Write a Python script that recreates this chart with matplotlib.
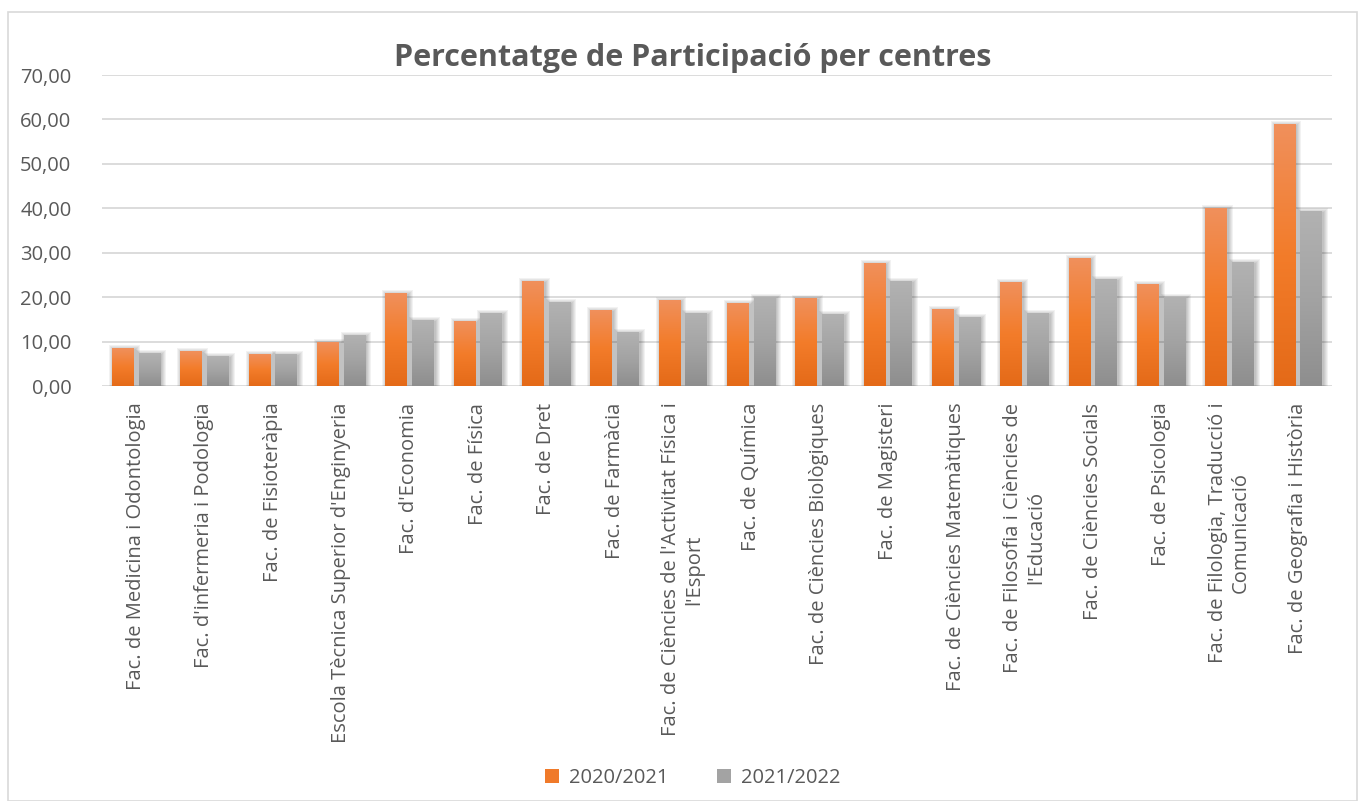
import numpy as np
import matplotlib
matplotlib.use("Agg")
import matplotlib.pyplot as plt
from matplotlib.patches import Rectangle, Patch
from matplotlib.colors import LinearSegmentedColormap
from matplotlib.ticker import FuncFormatter

plt.rcParams['font.family'] = ['Open Sans', 'DejaVu Sans']

centres = [
    "Fac. de Medicina i Odontologia",
    "Fac. d'infermeria i Podologia",
    "Fac. de Fisioteràpia",
    "Escola Tècnica Superior d'Enginyeria",
    "Fac. d'Economia",
    "Fac. de Física",
    "Fac. de Dret",
    "Fac. de Farmàcia",
    "Fac. de Ciències de l'Activitat Física i\nl'Esport",
    "Fac. de Química",
    "Fac. de Ciències Biològiques",
    "Fac. de Magisteri",
    "Fac. de Ciències Matemàtiques",
    "Fac. de Filosofia i Ciències de\nl'Educació",
    "Fac. de Ciències Socials",
    "Fac. de Psicologia",
    "Fac. de Filologia, Traducció i\nComunicació",
    "Fac. de Geografia i Història",
]
curs_2020 = [8.55, 7.87, 7.2, 9.9, 20.9, 14.6, 23.6, 17.1, 19.3, 18.7,
             19.8, 27.7, 17.3, 23.4, 28.8, 22.9, 40.0, 58.9]
curs_2021 = [7.4, 6.75, 7.2, 11.5, 14.8, 16.4, 18.9, 12.1, 16.4, 20.0,
             16.2, 23.6, 15.5, 16.4, 24.1, 20.0, 27.9, 39.4]
series_names = ["2020/2021", "2021/2022"]

text_col = "#595959"
grid_col = "#D9D9D9"
orange_cmap = LinearSegmentedColormap.from_list(
    "or", ["#E46A18", "#F37C2A", "#F0905C"])
gray_cmap = LinearSegmentedColormap.from_list(
    "gr", ["#8E8E8E", "#A3A3A3", "#B2B2B2"])

W, H = 1366, 801
fig = plt.figure(figsize=(W / 100, H / 100), dpi=100)
fig.patches.append(Rectangle((8 / W, 0), (1357 - 8) / W, 1 - 12 / H,
                             transform=fig.transFigure, fill=False,
                             edgecolor=grid_col, lw=1.2))

ax = fig.add_axes([102 / W, 1 - 386 / H, (1332 - 102) / W, (386 - 75) / H])
n = len(centres)
x = np.arange(n)
bw = 0.32
off = 0.195
ax.set_xlim(-0.5, n - 0.5)
ax.set_ylim(0, 70)

# pixel size in data units (for shadows)
px_x = n / (1332 - 102)
px_y = 70 / (386 - 75)

grad = np.linspace(0, 1, 256).reshape(-1, 1)
for vals, sign, cmap in [(curs_2020, -1, orange_cmap), (curs_2021, 1, gray_cmap)]:
    for xi, v in zip(x, vals):
        x0 = xi + sign * off - bw / 2
        # soft shadow, a bit offset to the right and down
        for k in range(1, 6):
            ax.add_patch(Rectangle((x0 - k * px_x + 2 * px_x, -k * px_y),
                                   bw + 2 * k * px_x - px_x, v + 2 * k * px_y - 2 * px_y,
                                   facecolor="#000000", alpha=0.05,
                                   edgecolor="none", zorder=2))
        rect = Rectangle((x0, 0), bw, v, facecolor="none", edgecolor="none", zorder=3)
        ax.add_patch(rect)
        im = ax.imshow(grad, extent=[x0, x0 + bw, 0, v], origin="lower",
                       aspect="auto", cmap=cmap, zorder=3)
        im.set_clip_path(rect)

ax.set_xlim(-0.5, n - 0.5)
ax.set_ylim(0, 70)
ax.set_yticks(np.arange(0, 71, 10))
ax.yaxis.set_major_formatter(FuncFormatter(lambda v, p: f"{v:.2f}".replace(".", ",")))
ax.grid(axis="y", color=grid_col, lw=1.3, zorder=1)
ax.set_axisbelow(True)
for s in ax.spines.values():
    s.set_visible(False)
ax.tick_params(axis="both", length=0, colors=text_col, labelsize=14.5)
ax.tick_params(axis="y", pad=22)
ax.tick_params(axis="x", pad=12)
ax.set_xticks(x)
ax.set_xticklabels(centres, rotation=90, ha="center", va="top",
                   multialignment="center")

fig.text(693 / W, 1 - 58 / H, "Percentatge de Participació per centres",
         ha="center", va="center", fontsize=22, fontweight="bold", color=text_col)

handles = [Patch(facecolor="#F07A2A", edgecolor="none"),
           Patch(facecolor="#A3A3A3", edgecolor="none")]
fig.legend(handles, series_names, loc="center", bbox_to_anchor=(693 / W, 1 - 778 / H),
           ncol=2, frameon=False, fontsize=14.5, labelcolor=text_col,
           handlelength=0.7, handleheight=0.7, handletextpad=0.5, columnspacing=2.4)

fig.savefig("out.png", dpi=100)
